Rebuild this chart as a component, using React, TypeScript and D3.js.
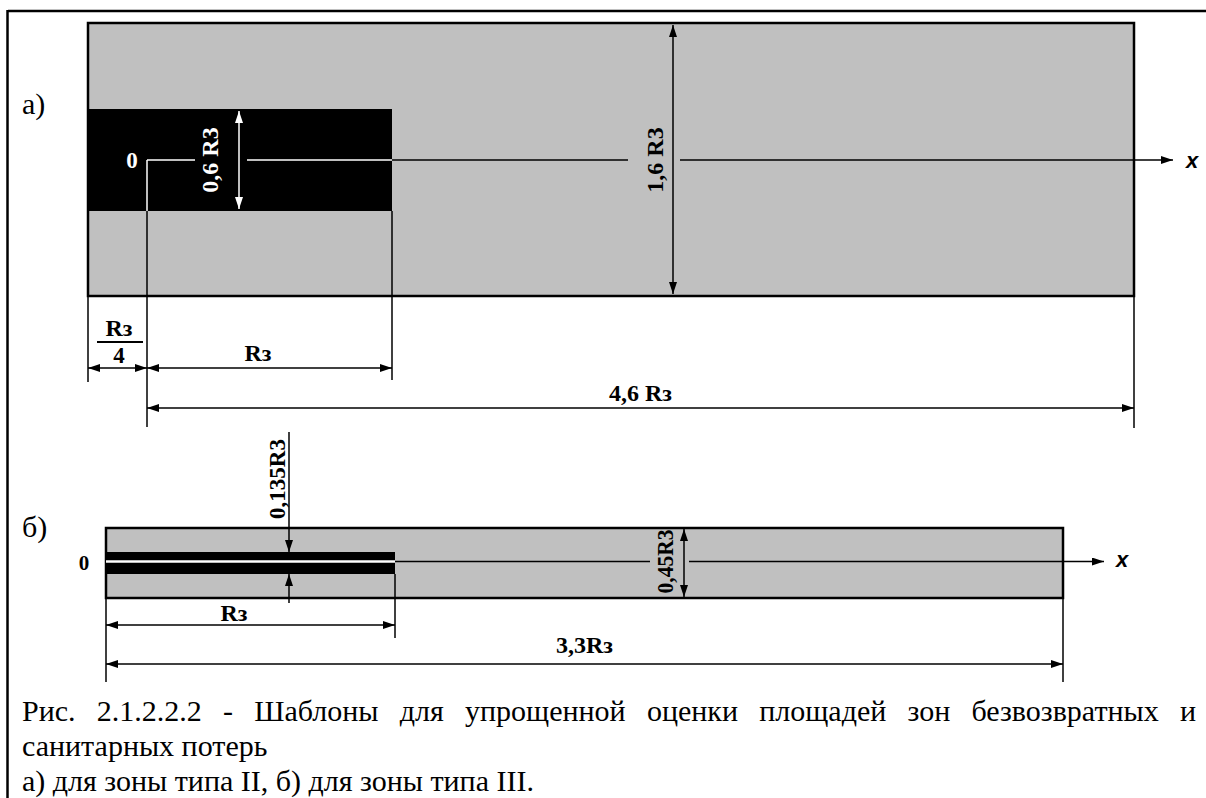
import React, { useEffect, useRef } from 'react';
import * as d3 from 'd3';

// template a) zone II: break points along x (in Rз from origin) and across (half-widths in Rз)
const zoneAX = [-0.25, 0, 1, 4.6];
const zoneAY = [-0.8, -0.3, 0, 0.3, 0.8];
// template б) zone III
const zoneBX = [0, 1, 3.3];
const zoneBY = [-0.225, -0.0675, 0, 0.0675, 0.225];

const zoneADims = [
    { from: -0.25, to: 0, label: 'Rз', sub: '4' },
    { from: 0, to: 1, label: 'Rз' },
    { from: 0, to: 4.6, label: '4,6 Rз' },
];
const zoneBDims = [
    { from: 0, to: 1, label: 'Rз' },
    { from: 0, to: 3.3, label: '3,3Rз' },
];
const zoneAHeights = ['0,6 R3', '1,6 R3'];
const zoneBHeights = ['0,135R3', '0,45R3'];
const panelLabels = ['а)', 'б)'];
const captionLines = [
    'Рис. 2.1.2.2.2 - Шаблоны для упрощенной оценки площадей зон безвозвратных и',
    'санитарных потерь',
    'а) для зоны типа II, б) для зоны типа III.',
];

const W = 1206;
const H = 798;
const GRAY = '#c0c0c0';
const serif = { fontFamily: "'Liberation Serif', 'Times New Roman', Times, serif" };
const sans = { fontFamily: "'Liberation Sans', Arial, sans-serif" };

const App: React.FC = () => {
    const firstLine = useRef<SVGTextElement>(null);

    // justify the first caption line by stretching word spacing
    useEffect(() => {
        const t = firstLine.current;
        if (!t) return;
        t.setAttribute('word-spacing', '0');
        const natural = t.getComputedTextLength();
        const spaces = captionLines[0].split(' ').length - 1;
        const target = 1196 - 22;
        t.setAttribute('word-spacing', String((target - natural) / spaces));
    }, []);

    const xA = d3.scaleLinear().domain(zoneAX).range([88, 147, 392, 1134]);
    const yA = d3.scaleLinear().domain(zoneAY).range([296, 211, 160, 109, 23]);
    const xB = d3.scaleLinear().domain(zoneBX).range([106, 395, 1063]);
    const yB = d3.scaleLinear().domain(zoneBY).range([598, 574, 561.5, 552, 528]);

    const dimY = [368, 368, 408];
    const dimLabelX = [119, 258, (xA(0) + xA(4.6)) / 2];
    const dimLabelY = [336, 361, 401];
    const dimBY = [625, 664];
    const dimBLabelX = [234, (xB(0) + xB(3.3)) / 2];
    const dimBLabelY = [621, 653];

    return (
        <svg width={W} height={H} style={{ position: 'absolute', left: 0, top: 0, background: '#fff' }}>
            <defs>
                <marker id="ab" viewBox="0 0 12 8" refX={12} refY={4} markerWidth={12} markerHeight={8}
                    markerUnits="userSpaceOnUse" orient="auto-start-reverse">
                    <path d="M0,0 L12,4 L0,8 Z" fill="#000" />
                </marker>
                <marker id="aw" viewBox="0 0 12 8" refX={12} refY={4} markerWidth={12} markerHeight={8}
                    markerUnits="userSpaceOnUse" orient="auto-start-reverse">
                    <path d="M0,0 L12,4 L0,8 Z" fill="#fff" />
                </marker>
            </defs>

            {/* page frame */}
            <line x1={8} x2={W} y1={11} y2={11} stroke="#000" strokeWidth={2.5} />
            <line x1={7.5} x2={7.5} y1={10} y2={H} stroke="#000" strokeWidth={2.5} />

            {/* ---------- a) ---------- */}
            <text x={22} y={114} style={serif} fontSize={30}>{panelLabels[0]}</text>
            <rect x={xA(-0.25)} y={yA(0.8)} width={xA(4.6) - xA(-0.25)} height={yA(-0.8) - yA(0.8)} fill={GRAY} />
            <rect x={xA(-0.25)} y={yA(0.3)} width={xA(1) - xA(-0.25)} height={yA(-0.3) - yA(0.3)} fill="#000" />
            <rect x={xA(-0.25)} y={yA(0.8)} width={xA(4.6) - xA(-0.25)} height={yA(-0.8) - yA(0.8)}
                fill="none" stroke="#000" strokeWidth={2.5} />

            {/* axis */}
            <line x1={xA(0)} x2={195} y1={yA(0)} y2={yA(0)} stroke="#fff" strokeWidth={1.5} />
            <line x1={247} x2={xA(1)} y1={yA(0)} y2={yA(0)} stroke="#fff" strokeWidth={1.5} />
            <line x1={xA(1)} x2={628} y1={yA(0)} y2={yA(0)} stroke="#000" strokeWidth={1.5} />
            <line x1={680} x2={1173} y1={yA(0)} y2={yA(0)} stroke="#000" strokeWidth={1.5} markerEnd="url(#ab)" />
            <text x={1192} y={168} textAnchor="middle" style={sans}
                fontWeight="bold" fontStyle="italic" fontSize={22}>x</text>
            <text x={132} y={168} textAnchor="middle" style={serif} fontWeight="bold" fontSize={23} fill="#fff">0</text>

            {/* verticals and extension lines */}
            <line x1={xA(0)} x2={xA(0)} y1={yA(0)} y2={yA(-0.3)} stroke="#fff" strokeWidth={1.5} />
            <line x1={xA(0)} x2={xA(0)} y1={yA(-0.3)} y2={427} stroke="#000" strokeWidth={1.5} />
            <line x1={xA(1)} x2={xA(1)} y1={yA(-0.3)} y2={380} stroke="#000" strokeWidth={1.5} />
            <line x1={xA(-0.25)} x2={xA(-0.25)} y1={yA(-0.8)} y2={382} stroke="#000" strokeWidth={1.5} />
            <line x1={xA(4.6)} x2={xA(4.6)} y1={yA(-0.8)} y2={428} stroke="#000" strokeWidth={1.5} />

            {/* height dimensions */}
            <line x1={239} x2={239} y1={yA(0.3) + 2} y2={yA(-0.3) - 2} stroke="#fff" strokeWidth={1.5}
                markerStart="url(#aw)" markerEnd="url(#aw)" />
            <text transform={`translate(218,${yA(0)}) rotate(-90)`} textAnchor="middle" style={serif}
                fontWeight="bold" fontSize={24} fill="#fff">{zoneAHeights[0]}</text>
            <line x1={673} x2={673} y1={yA(0.8) + 2} y2={yA(-0.8) - 2} stroke="#000" strokeWidth={1.5}
                markerStart="url(#ab)" markerEnd="url(#ab)" />
            <text transform={`translate(663,${yA(0)}) rotate(-90)`} textAnchor="middle" style={serif}
                fontWeight="bold" fontSize={24}>{zoneAHeights[1]}</text>

            {/* length dimensions */}
            {zoneADims.map((d, i) => (
                <g key={i}>
                    <line x1={xA(d.from)} x2={xA(d.to)} y1={dimY[i]} y2={dimY[i]} stroke="#000" strokeWidth={1.5}
                        markerStart="url(#ab)" markerEnd="url(#ab)" />
                    <text x={dimLabelX[i]} y={dimLabelY[i]} textAnchor="middle" style={serif}
                        fontWeight="bold" fontSize={24}>{d.label}</text>
                    {d.sub && (
                        <>
                            <line x1={97} x2={143} y1={342} y2={342} stroke="#000" strokeWidth={2} />
                            <text x={dimLabelX[i]} y={363} textAnchor="middle" style={serif}
                                fontWeight="bold" fontSize={23}>{d.sub}</text>
                        </>
                    )}
                </g>
            ))}

            {/* ---------- б) ---------- */}
            <text x={22} y={537} style={serif} fontSize={30}>{panelLabels[1]}</text>
            <rect x={xB(0)} y={yB(0.225)} width={xB(3.3) - xB(0)} height={yB(-0.225) - yB(0.225)} fill={GRAY} />
            <rect x={xB(0)} y={yB(0.0675)} width={xB(1) - xB(0)} height={yB(-0.0675) - yB(0.0675)} fill="#000" />
            <rect x={xB(0)} y={yB(0.225)} width={xB(3.3) - xB(0)} height={yB(-0.225) - yB(0.225)}
                fill="none" stroke="#000" strokeWidth={2.5} />

            <line x1={xB(0)} x2={xB(1)} y1={yB(0)} y2={yB(0)} stroke="#fff" strokeWidth={2.5} />
            <line x1={xB(1)} x2={650} y1={yB(0)} y2={yB(0)} stroke="#000" strokeWidth={1.5} />
            <line x1={689} x2={1104} y1={yB(0)} y2={yB(0)} stroke="#000" strokeWidth={1.5} markerEnd="url(#ab)" />
            <text x={1122} y={567} textAnchor="middle" style={sans}
                fontWeight="bold" fontStyle="italic" fontSize={22}>x</text>
            <text x={84} y={570} textAnchor="middle" style={serif} fontWeight="bold" fontSize={21}>0</text>

            <line x1={xB(1)} x2={xB(1)} y1={yB(-0.0675)} y2={638} stroke="#000" strokeWidth={1.5} />
            <line x1={xB(0)} x2={xB(0)} y1={yB(-0.225)} y2={682} stroke="#000" strokeWidth={1.5} />
            <line x1={xB(3.3)} x2={xB(3.3)} y1={yB(-0.225)} y2={682} stroke="#000" strokeWidth={1.5} />

            {/* 0,135 Rз — pointers from outside */}
            <line x1={289} x2={289} y1={432} y2={yB(0.0675)} stroke="#000" strokeWidth={1.5} markerEnd="url(#ab)" />
            <line x1={289} x2={289} y1={603} y2={yB(-0.0675)} stroke="#000" strokeWidth={1.5} markerEnd="url(#ab)" />
            <text transform="translate(285,479) rotate(-90)" textAnchor="middle" style={serif}
                fontWeight="bold" fontSize={23}>{zoneBHeights[0]}</text>

            <line x1={684} x2={684} y1={yB(0.225) + 1} y2={yB(-0.225) - 1} stroke="#000" strokeWidth={1.5}
                markerStart="url(#ab)" markerEnd="url(#ab)" />
            <text transform={`translate(673,${yB(0)}) rotate(-90)`} textAnchor="middle" style={serif}
                fontWeight="bold" fontSize={24} textLength={64} lengthAdjust="spacingAndGlyphs">{zoneBHeights[1]}</text>

            {zoneBDims.map((d, i) => (
                <g key={i}>
                    <line x1={xB(d.from)} x2={xB(d.to)} y1={dimBY[i]} y2={dimBY[i]} stroke="#000" strokeWidth={1.5}
                        markerStart="url(#ab)" markerEnd="url(#ab)" />
                    <text x={dimBLabelX[i]} y={dimBLabelY[i]} textAnchor="middle" style={serif}
                        fontWeight="bold" fontSize={24}>{d.label}</text>
                </g>
            ))}

            {/* caption */}
            {captionLines.map((line, i) => (
                <text key={i} ref={i === 0 ? firstLine : undefined} x={22} y={721 + i * 35}
                    style={serif} fontSize={30}>{line}</text>
            ))}
        </svg>
    );
};

export default App;
